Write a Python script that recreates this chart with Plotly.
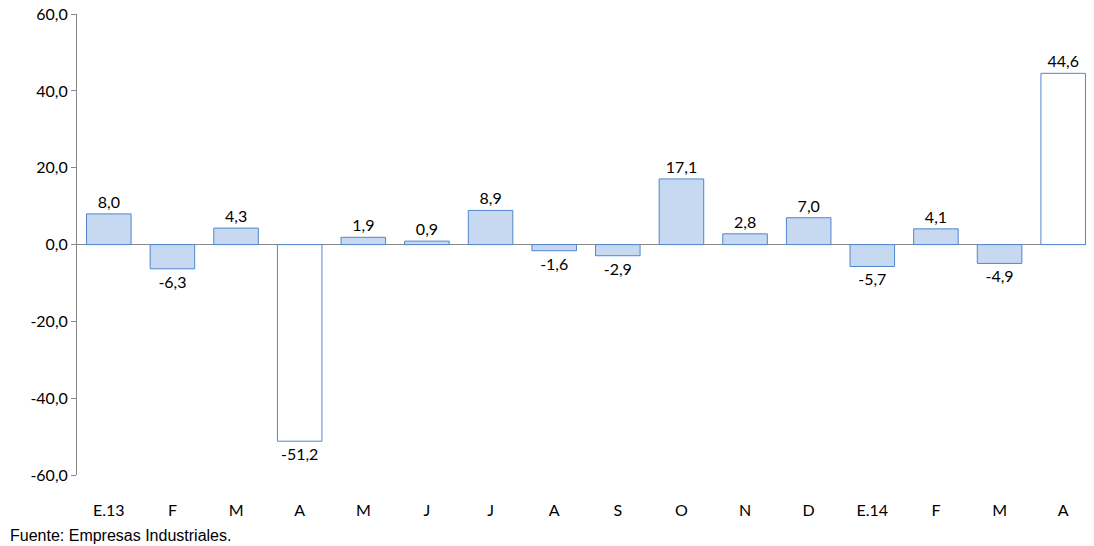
import plotly.graph_objects as go

meses = ['E.13', 'F', 'M', 'A', 'M', 'J', 'J', 'A', 'S', 'O', 'N', 'D', 'E.14', 'F', 'M', 'A']
valores = [8.0, -6.3, 4.3, -51.2, 1.9, 0.9, 8.9, -1.6, -2.9, 17.1, 2.8, 7.0, -5.7, 4.1, -4.9, 44.6]
destacados = [3, 15]  # barras sin relleno
ticks_y = [-60, -40, -20, 0, 20, 40, 60]

x = list(range(len(meses)))
relleno = ['white' if i in destacados else '#c6d9f1' for i in x]
etiquetas = [f'{v:.1f}'.replace('.', ',') for v in valores]
ticks_y_txt = [f'{v:.1f}'.replace('.', ',') for v in ticks_y]

fig = go.Figure()
fig.add_trace(go.Bar(
    x=x, y=valores, width=0.7,
    marker=dict(color=relleno, line=dict(color='#4f86d0', width=1)),
    text=etiquetas, textposition='outside', cliponaxis=False,
    textfont=dict(family='Lato', size=16, color='black'),
))

# la página deja 8px de margen en el body, se compensa aquí
fig.update_layout(
    width=1087, height=539, plot_bgcolor='white', paper_bgcolor='white',
    margin=dict(l=69, r=0, t=6, b=72, autoexpand=False), showlegend=False,
    font=dict(family='Lato', size=16, color='black'),
    xaxis=dict(tickvals=x, ticktext=meses, range=[-0.5, 15.5], showline=False,
               showgrid=False, ticks='', ticklabelstandoff=24, automargin=False),
    yaxis=dict(range=[-60, 60.05], tickvals=ticks_y, ticktext=ticks_y_txt,
               showgrid=False, showline=True, linecolor='#888', ticks='outside',
               ticklen=5, tickcolor='#888', zeroline=True, zerolinecolor='#888',
               zerolinewidth=1, automargin=False, ticklabeloverflow='allow'),
    annotations=[dict(text='Fuente: Empresas Industriales.', xref='paper', yref='paper',
                      x=-0.068, y=-0.132, xanchor='left', yanchor='middle', showarrow=False,
                      font=dict(family='Arial', size=16))],
)

fig.write_html('out.html')
